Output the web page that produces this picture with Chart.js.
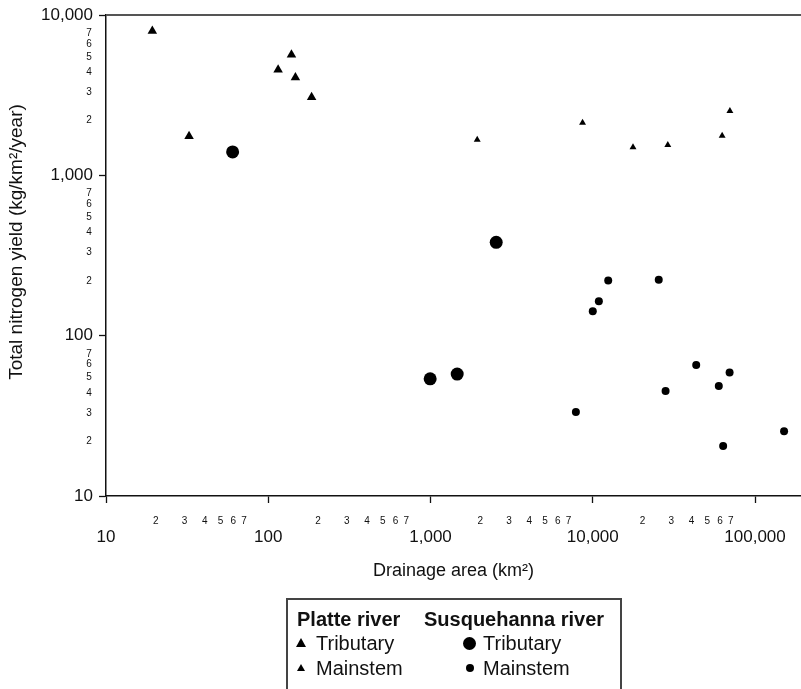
<!DOCTYPE html>
<html>
<head>
<meta charset="utf-8">
<title>Total nitrogen yield vs drainage area</title>
<script src="https://cdn.jsdelivr.net/npm/chart.js@4.4.1/dist/chart.umd.min.js"></script>
<style>
  html, body { margin: 0; padding: 0; background: #fff; overflow: hidden; }
  #wrap { position: relative; width: 801px; height: 689px; font-family: "Liberation Sans", Arial, sans-serif; color: #111; }
  #chart { position: absolute; left: 0; top: 0; }
  .key { position: absolute; left: 286px; top: 598px; width: 332px; height: 120px; border: 2px solid #444; }
  .key span { position: absolute; font-size: 20px; line-height: 24px; white-space: nowrap; }
  .key .head { font-weight: bold; }
  .tri { position: absolute; width: 0; height: 0; border-style: solid; border-color: transparent transparent #000 transparent; }
  .dot { position: absolute; background: #000; border-radius: 50%; }
</style>
</head>
<body>
<div id="wrap">
  <canvas id="chart" width="801" height="689"></canvas>
  <div class="key">
    <span class="head" style="left:9px; top:7px;">Platte river</span>
    <span class="head" style="left:136px; top:7px;">Susquehanna river</span>
    <i class="tri" style="left:8px; top:38px; border-width:0 5.5px 9px 5.5px;"></i>
    <span style="left:28px; top:31px;">Tributary</span>
    <i class="tri" style="left:9px; top:64px; border-width:0 4px 7px 4px;"></i>
    <span style="left:28px; top:56px;">Mainstem</span>
    <i class="dot" style="left:175px; top:37px; width:13px; height:13px;"></i>
    <span style="left:195px; top:31px;">Tributary</span>
    <i class="dot" style="left:178px; top:64px; width:8px; height:8px;"></i>
    <span style="left:195px; top:56px;">Mainstem</span>
  </div>
</div>
<script>
// drainage area (km2) and total nitrogen yield (kg/km2/year) per site
var platteTribArea  = [19.3, 32.5, 115, 139, 147, 185];
var platteTribYield = [7960, 1750, 4560, 5650, 4080, 3070];

var platteMainArea  = [1940, 8650, 17700, 29000, 62700, 70000];
var platteMainYield = [1665, 2130, 1495, 1545, 1765, 2520];

var susqTribArea  = [60.3, 2540, 995, 1460];
var susqTribYield = [1400, 382, 53.8, 57.6];

var susqMainArea  = [12450, 25500, 10900, 10000, 43400, 69700, 59800, 28100, 7870, 151000, 63600];
var susqMainYield = [221, 223, 164, 142, 65.6, 59, 48.5, 45.1, 33.4, 25.3, 20.5];

// axis ticks: labelled decades plus the small 2..7 marks in between
var xDecades = [10, 100, 1000, 10000, 100000];
var yDecades = [10, 100, 1000, 10000];
var minorSteps = [2, 3, 4, 5, 6, 7];

var FONT = '"Liberation Sans", Arial, sans-serif';
var Y_TITLE = "Total nitrogen yield (kg/km²/year)";

function pts(xs, ys) {
  return xs.map(function (x, i) { return { x: x, y: ys[i] }; });
}
function comma(v) { return Number(v).toLocaleString("en-US"); }

// small 2..7 numbers between the decades, the top frame line and the y title
var extras = {
  id: "extras",
  afterDraw: function (chart) {
    var ctx = chart.ctx, xs = chart.scales.x, ys = chart.scales.y, a = chart.chartArea;
    ctx.save();
    ctx.fillStyle = "#111";
    ctx.font = "10px " + FONT;
    ctx.textAlign = "center";
    ctx.textBaseline = "middle";
    xDecades.slice(0, -1).forEach(function (d) {
      minorSteps.forEach(function (m) {
        ctx.fillText(String(m), xs.getPixelForValue(m * d) + 1, a.bottom + 25);
      });
    });
    yDecades.slice(0, -1).forEach(function (d) {
      minorSteps.forEach(function (m) {
        ctx.fillText(String(m), 89, ys.getPixelForValue(m * d) - 6.5);
      });
    });
    ctx.strokeStyle = "#555";
    ctx.lineWidth = 2;
    ctx.beginPath();
    ctx.moveTo(a.left, a.top);
    ctx.lineTo(a.right, a.top);
    ctx.stroke();

    ctx.translate(17, 242);
    ctx.rotate(-Math.PI / 2);
    ctx.font = "19px " + FONT;
    ctx.fillText(Y_TITLE, 0, 0);
    ctx.restore();
  }
};

function axisGrid() {
  return { drawOnChartArea: false, drawTicks: true, tickLength: 7, tickColor: "#111", tickWidth: 1.3 };
}

new Chart(document.getElementById("chart"), {
  type: "scatter",
  data: {
    datasets: [
      { label: "Platte tributary", data: pts(platteTribArea, platteTribYield), pointStyle: "triangle", pointRadius: 5.5, backgroundColor: "#000", borderWidth: 0 },
      { label: "Platte mainstem", data: pts(platteMainArea, platteMainYield), pointStyle: "triangle", pointRadius: 4, backgroundColor: "#000", borderWidth: 0 },
      { label: "Susquehanna tributary", data: pts(susqTribArea, susqTribYield), pointStyle: "circle", pointRadius: 6.5, backgroundColor: "#000", borderWidth: 0 },
      { label: "Susquehanna mainstem", data: pts(susqMainArea, susqMainYield), pointStyle: "circle", pointRadius: 4, backgroundColor: "#000", borderWidth: 0 }
    ]
  },
  options: {
    responsive: false,
    devicePixelRatio: 1,
    animation: false,
    events: [],
    layout: { autoPadding: false, padding: { left: 0, top: 15, right: 0, bottom: 103 } },
    plugins: { legend: { display: false }, tooltip: { enabled: false } },
    scales: {
      x: {
        type: "logarithmic",
        min: 10,
        max: 192000,
        afterBuildTicks: function (s) { s.ticks = xDecades.map(function (v) { return { value: v, major: true }; }); },
        afterFit: function (s) { s.height = 90; s.paddingRight = 0; s.paddingLeft = 0; },
        grid: axisGrid(),
        border: { display: true, color: "#111", width: 1.5 },
        ticks: { color: "#111", font: { family: FONT, size: 17 }, padding: 24, maxRotation: 0, autoSkip: false,
          callback: function (v) { return comma(v); } },
        title: { display: true, text: "Drainage area (km²)", color: "#111", font: { family: FONT, size: 18 }, padding: { top: 4, bottom: 4 } }
      },
      y: {
        type: "logarithmic",
        min: 10,
        max: 10000,
        afterBuildTicks: function (s) { s.ticks = yDecades.map(function (v) { return { value: v, major: true }; }); },
        afterFit: function (s) { s.width = 106; s.paddingTop = 0; s.paddingBottom = 0; },
        grid: axisGrid(),
        border: { display: true, color: "#111", width: 1.5 },
        ticks: { color: "#111", font: { family: FONT, size: 17 }, padding: 6, autoSkip: false,
          callback: function (v) { return comma(v); } }
      }
    }
  },
  plugins: [extras]
});
</script>
</body>
</html>
